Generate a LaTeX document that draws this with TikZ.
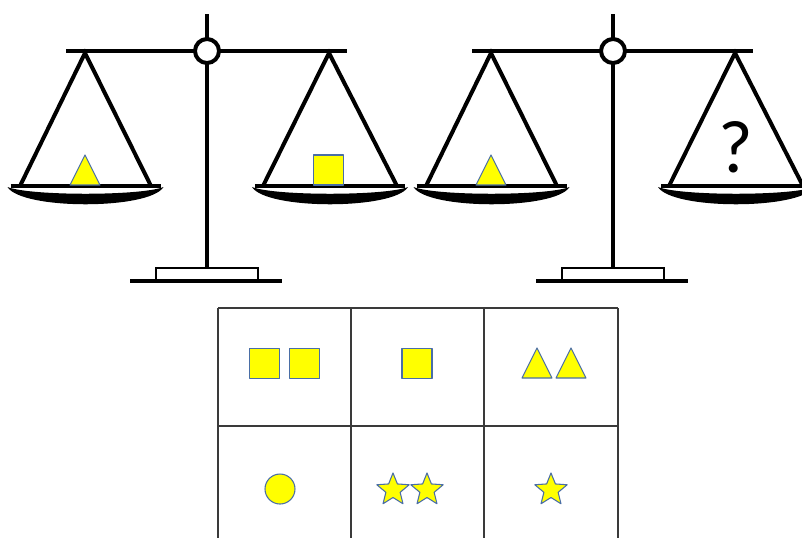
\documentclass[tikz,border=0pt]{standalone}
\usepackage{fontspec}
\setmainfont{Carlito}
\usepackage{xcolor}
\definecolor{tokenfill}{HTML}{FFFF00}
\definecolor{tokenline}{HTML}{4A6EA6}
\definecolor{cellline}{HTML}{3A3A3A}

\tikzset{
	bar/.style={line width=3pt},
	token/.style={fill=tokenfill,draw=tokenline,line width=0.8pt,line join=round},
	cell/.style={draw=cellline,line width=0.9pt},
	pivot/.style={circle,draw,line width=3pt,fill=white,minimum size=18pt,inner sep=0pt},
	pan/.pic={
		\fill (-78,1) .. controls (-64,24) and (64,24) .. (78,1)
			.. controls (55,10) and (-55,10) .. cycle;
		\draw[bar] (-75,0) -- (75,0);
	},
	sq/.pic={\draw[token] (-15,-15) rectangle (15,15);},
	tri/.pic={\draw[token] (0,-15) -- (15,15) -- (-15,15) -- cycle;},
	dot/.pic={\draw[token] (0,0) circle (15);},
	starpic/.pic={
		\draw[token] (-90:17) \foreach \a in {1,...,9} {
			-- ({-90+36*\a}:{ifthenelse(mod(\a,2)==0,17,7.5)})
		} -- cycle;
	}
}

\begin{document}
\begin{tikzpicture}[x=0.75pt,y=-0.75pt]
	\useasboundingbox (0,0) rectangle (802,537);
	\clip (0,0) rectangle (802,537);

	% the two balances
	\foreach \dx in {0,406} {
		\begin{scope}[shift={(\dx,0)}]
			\draw[bar] (207,14) -- (207,40);
			\draw[bar] (66,51) -- (347,51);
			\draw[bar] (207,62) -- (207,268);
			\draw[bar] (20,186) -- (85,53) -- (151,186);
			\draw[bar] (263,186) -- (329,53) -- (397,186);
			\node[pivot] (pivot\dx) at (207,51) {};
			\pic at (85.5,186) {pan};
			\pic at (330,186) {pan};
			\draw[line width=2.2pt] (156,268) rectangle (258,280);
			\draw[bar] (130,281) -- (282,281);
		\end{scope}
	}

	% what sits in the pans
	\pic at (85,170) {tri};
	\pic at (328.5,170) {sq};
	\pic at (491,170) {tri};
	\node (ask) at (736,147) {\fontsize{56}{60}\selectfont ?};

	% answer table
	\foreach \x in {218,351,484,618}
		\draw[cell] (\x,308) -- (\x,545);
	\foreach \y in {308,426}
		\draw[cell] (218,\y) -- (618,\y);

	\pic at (264.5,363.5) {sq};
	\pic at (304.5,363.5) {sq};
	\pic at (417,363.5) {sq};
	\pic at (537,363) {tri};
	\pic at (571,363) {tri};

	\pic at (280,489) {dot};
	\pic at (393,490) {starpic};
	\pic at (427,490) {starpic};
	\pic at (551,490) {starpic};
\end{tikzpicture}
\end{document}
